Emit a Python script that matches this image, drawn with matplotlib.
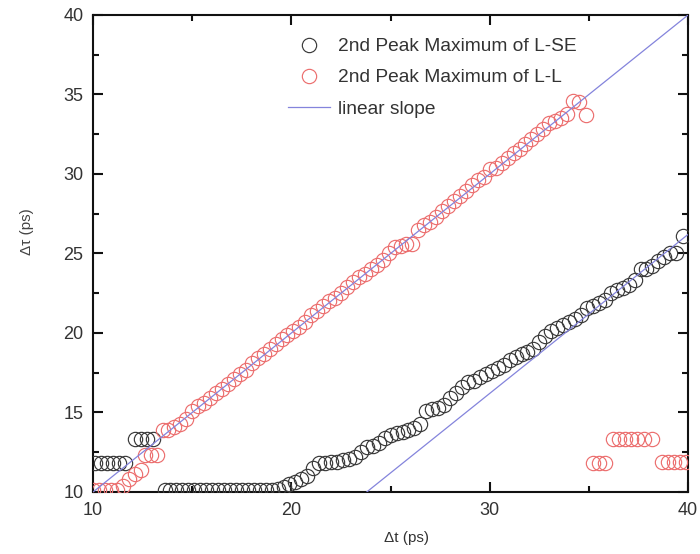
import matplotlib
matplotlib.use("Agg")
import matplotlib.pyplot as plt
from matplotlib.ticker import MultipleLocator

plt.rcParams['font.family'] = ['Liberation Sans', 'DejaVu Sans']

# ---- data ----
lse_x = [10.1, 10.4, 10.7, 11.0, 11.3, 11.6,
         12.1, 12.4, 12.7, 13.0,
         13.6, 13.9, 14.2, 14.5, 14.8, 15.1, 15.4, 15.7, 16.0, 16.3,
         16.6, 16.9, 17.2, 17.5, 17.8, 18.1, 18.4, 18.7, 19.0, 19.3,
         19.6, 19.9, 20.2, 20.5, 20.8, 21.1, 21.4, 21.7, 22.0, 22.3,
         22.6, 22.9, 23.2, 23.5, 23.8, 24.1, 24.4, 24.7, 25.0, 25.3,
         25.6, 25.9, 26.2, 26.5, 26.8, 27.1, 27.4, 27.7, 28.0, 28.3,
         28.6, 28.9, 29.2, 29.5, 29.8, 30.1, 30.4, 30.7, 31.0, 31.3,
         31.6, 31.9, 32.2, 32.5, 32.8, 33.1, 33.4, 33.7, 34.0, 34.3,
         34.6, 34.9, 35.2, 35.5, 35.8, 36.1, 36.4, 36.7, 37.0, 37.3,
         37.6, 37.9, 38.2, 38.5, 38.8, 39.1, 39.4, 39.75]
lse_y = [11.8, 11.8, 11.8, 11.8, 11.8, 11.8,
         13.3, 13.3, 13.3, 13.3,
         10.1, 10.1, 10.1, 10.1, 10.1, 10.1, 10.1, 10.1, 10.1, 10.1,
         10.1, 10.1, 10.1, 10.1, 10.1, 10.1, 10.1, 10.1, 10.1, 10.2,
         10.3, 10.5, 10.6, 10.8, 11.0, 11.5, 11.8, 11.8, 11.9, 11.9,
         12.0, 12.1, 12.2, 12.5, 12.8, 12.9, 13.1, 13.4, 13.6, 13.7,
         13.8, 13.9, 14.0, 14.3, 15.1, 15.2, 15.3, 15.5, 15.9, 16.2,
         16.6, 16.9, 17.0, 17.2, 17.4, 17.6, 17.8, 18.0, 18.3, 18.5,
         18.7, 18.8, 19.0, 19.4, 19.8, 20.1, 20.3, 20.5, 20.7, 20.9,
         21.1, 21.6, 21.7, 21.9, 22.1, 22.5, 22.7, 22.8, 23.0, 23.3,
         24.0, 24.0, 24.2, 24.5, 24.8, 25.0, 25.0, 26.1]

ll_x = [10.0, 10.3, 10.6, 10.9, 11.2, 11.5, 11.8, 12.1, 12.4,
        12.6, 12.9, 13.2,
        13.5, 13.8, 14.1, 14.4, 14.7, 15.0, 15.3, 15.6, 15.9, 16.2,
        16.5, 16.8, 17.1, 17.4, 17.7, 18.0, 18.3, 18.6, 18.9, 19.2,
        19.5, 19.8, 20.1, 20.4, 20.7, 21.0, 21.3, 21.6, 21.9, 22.2,
        22.5, 22.8, 23.1, 23.4, 23.7, 24.0, 24.3, 24.6, 24.9, 25.2,
        25.5, 25.8, 26.1, 26.4, 26.7, 27.0, 27.3, 27.6, 27.9, 28.2,
        28.5, 28.8, 29.1, 29.4, 29.7, 30.0, 30.3, 30.6, 30.9, 31.2,
        31.5, 31.8, 32.1, 32.4, 32.7, 33.0, 33.3, 33.6, 33.9, 34.2,
        34.5, 34.85,
        35.2, 35.5, 35.8,
        36.2, 36.5, 36.8, 37.1, 37.4, 37.8, 38.2,
        38.7, 39.0, 39.3, 39.6, 39.9]
ll_y = [10.1, 10.1, 10.1, 10.1, 10.1, 10.4, 10.8, 11.1, 11.4,
        12.3, 12.3, 12.3,
        13.9, 13.9, 14.1, 14.3, 14.6, 15.1, 15.4, 15.6, 15.9, 16.2,
        16.5, 16.8, 17.1, 17.4, 17.7, 18.1, 18.4, 18.7, 19.0, 19.3,
        19.6, 19.9, 20.1, 20.4, 20.7, 21.1, 21.4, 21.7, 22.0, 22.2,
        22.5, 22.9, 23.2, 23.5, 23.7, 24.0, 24.3, 24.6, 25.0, 25.4,
        25.5, 25.6, 25.6, 26.5, 26.8, 27.0, 27.3, 27.7, 28.0, 28.3,
        28.6, 28.9, 29.3, 29.6, 29.8, 30.3, 30.4, 30.7, 31.0, 31.3,
        31.6, 31.9, 32.2, 32.5, 32.8, 33.2, 33.3, 33.5, 33.8, 34.6,
        34.5, 33.7,
        11.8, 11.8, 11.8,
        13.3, 13.3, 13.3, 13.3, 13.3, 13.3, 13.3,
        11.9, 11.9, 11.9, 11.9, 11.9]

slope1_x = [10, 40]
slope1_y = [10, 40]
slope2_x = [23.8, 40]
slope2_y = [10, 26.2]

labels = ["2nd Peak Maximum of L-SE", "2nd Peak Maximum of L-L", "linear slope"]
x_ticks = [10, 20, 30, 40]
y_ticks = [10, 15, 20, 25, 30, 35, 40]

# ---- figure ----
fig = plt.figure(figsize=(7.0, 5.54), dpi=100)
ax = fig.add_axes([0.133, 0.112, 0.850, 0.861])

mk = dict(linestyle='none', marker='o', markersize=10.3, markerfacecolor='none',
          markeredgewidth=0.85)
ax.plot(lse_x, lse_y, markeredgecolor='#3a3a3a', label=labels[0], zorder=3, **mk)
ax.plot(ll_x, ll_y, markeredgecolor='#ec6f6f', label=labels[1], zorder=3, **mk)
ax.plot(slope1_x, slope1_y, color='#8484dc', lw=0.9, label=labels[2], zorder=4)
ax.plot(slope2_x, slope2_y, color='#8484dc', lw=0.9, zorder=4)

ax.set_xlim(10, 40)
ax.set_ylim(10, 40)
ax.set_xticks(x_ticks)
ax.set_yticks(y_ticks)
ax.xaxis.set_minor_locator(MultipleLocator(5))
ax.yaxis.set_minor_locator(MultipleLocator(2.5))
ax.tick_params(which='both', direction='in', top=True, right=True,
               width=1.5, color='#111111', labelsize=13, labelcolor='#333333')
ax.tick_params(which='major', length=7)
ax.tick_params(which='minor', length=4)
ax.tick_params(axis='x', pad=7)
ax.tick_params(axis='y', pad=7)
for s in ax.spines.values():
    s.set_linewidth(1.5)
    s.set_color('#111111')

ax.set_xlabel("\u0394t (ps)", fontsize=11, color='#333333')
ax.set_ylabel("\u0394\u03c4 (ps)", fontsize=11, color='#444444')
ax.xaxis.set_label_coords(0.526, -0.082)
ax.yaxis.set_label_coords(-0.10, 0.545)

leg = ax.legend(loc='upper left', bbox_to_anchor=(0.328, 0.952), frameon=False,
                fontsize=13.8, borderpad=0, borderaxespad=0, handlelength=2.2,
                handletextpad=0.4, labelspacing=0.72)
for t in leg.get_texts():
    t.set_color('#333333')

fig.savefig("out.png", dpi=100)
